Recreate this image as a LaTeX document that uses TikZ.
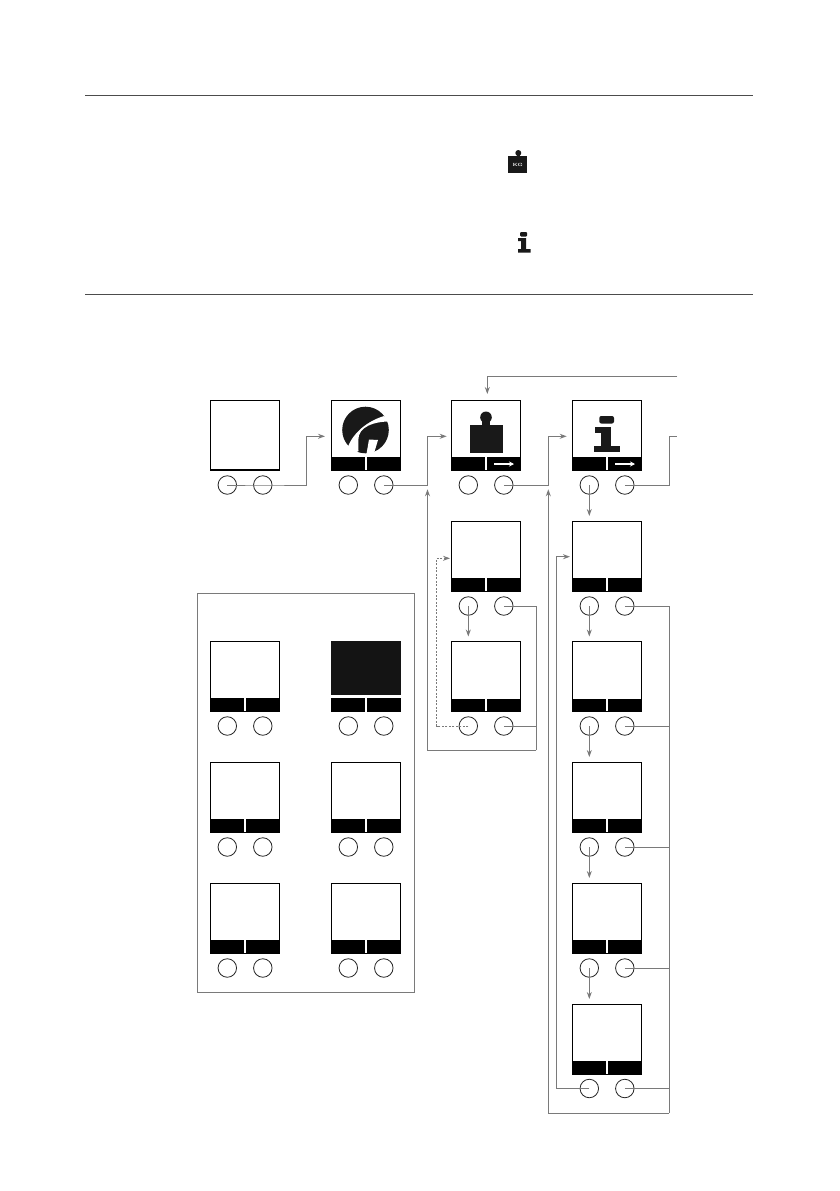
\documentclass[tikz,border=0pt]{standalone}
\usetikzlibrary{arrows.meta}

\begin{document}
\begin{tikzpicture}[
    x=1pt, y=-1pt,
    screen/.style={draw=black, fill=white, line width=1pt, minimum width=69.5pt, minimum height=70pt, inner sep=0pt, outer sep=0pt},
    softkey/.style={fill=black, minimum width=34pt, minimum height=13.5pt, inner sep=0pt, outer sep=0pt},
    keycap/.style={circle, draw=black!85, line width=0.8pt, minimum size=18.5pt, inner sep=0pt},
    flow/.style={draw=black!52, line width=1pt},
    icon/.style={fill=black!90},
    >={Stealth[length=7pt, width=5pt]}
]
    \useasboundingbox (0,0) rectangle (839,1191);

    % Rules of the table
    \coordinate (ruleTL) at (85,95);
    \coordinate (ruleTR) at (753,95);
    \coordinate (ruleBL) at (85,294.5);
    \coordinate (ruleBR) at (753,294.5);
    \draw[black!70, line width=0.8pt] (ruleTL) -- (ruleTR);
    \draw[black!70, line width=0.8pt] (ruleBL) -- (ruleBR);

    % Small weight icon
    \fill[icon] (518.3,153) circle (3);
    \fill[icon] (516.5,153) rectangle (520,157);
    \fill[icon] (508.3,156) rectangle (527.3,172.7);
    \node[white, font=\fontsize{4.5}{5}\selectfont\bfseries, inner sep=0pt] (kg) at (517.8,164.5) {KG};

    % Small info icon
    \fill[icon, rounded corners=1pt] (520,232) rectangle (527,236.5);
    \fill[icon] (518,238) rectangle (526,241) (521,238) rectangle (526,250) (518,249) rectangle (530.7,252.7);

    % Panel round the six small screens
    \node[draw=black!52, line width=1pt, minimum width=216.5pt, minimum height=399pt, inner sep=0pt] (panel) at (305.75,792.5) {};

    % Screens with a frame
    \foreach \name/\x/\y in {t1/210/400, t2/331/400, t3/451/400, t4/572/400,
                             w1/451/521, w2/451/641.5,
                             i1/572/521, i2/572/641.5, i3/572/762, i4/572/883, i5/572/1004,
                             p1/210/641, p3/210/762, p4/331/762, p5/210/883, p6/331/883} {
        \node[screen] (\name) at (\x+35,\y+35) {};
    }

    % Heavier lower edge of the first screen
    \draw[black, line width=1.8pt] (t1.south west) -- (t1.south east);

    % Dark screen of the panel
    \node[fill=black!92, minimum width=70pt, minimum height=54pt, inner sep=0pt] (p2) at (366,668) {};

    % Soft keys under the screens
    \foreach \name/\x/\y in {t2/331/400, t3/451/400, t4/572/400,
                             w1/451/521, w2/451/641.5,
                             i1/572/521, i2/572/641.5, i3/572/762, i4/572/883, i5/572/1004,
                             p1/210/641, p2/331/641, p3/210/762, p4/331/762, p5/210/883, p6/331/883} {
        \node[softkey] (\name L) at (\x+16.8,\y+64) {};
        \node[softkey] (\name R) at (\x+53,\y+64) {};
    }

    % Round keys below the screens
    \foreach \name/\x/\y in {t1/210/400, t2/331/400, t3/451/400, t4/572/400,
                             w1/451/521, w2/451/641,
                             i1/572/521, i2/572/641, i3/572/762, i4/572/883, i5/572/1003.5,
                             p1/210/641, p2/331/641, p3/210/762, p4/331/762, p5/210/883, p6/331/883} {
        \node[keycap] (\name a) at (\x+17.3,\y+85) {};
        \node[keycap] (\name b) at (\x+52.8,\y+85) {};
    }

    % Logo on the second screen
    \fill[icon] (365.5,430) circle (23.3);
    \fill[white] (347,449) .. controls (353,432) and (368,421) .. (384,416)
        -- (392,421.5) .. controls (374,421) and (358,427) .. (358.3,440)
        -- (358.5,451) -- (350,456) -- cycle;
    \fill[white] (369,439.5) -- (378,440) -- (373.5,455) -- (366.5,454) -- cycle;

    % Large weight icon
    \fill[icon] (486,417.3) circle (5.8);
    \fill[icon] (482,420) rectangle (490,427);
    \fill[icon] (470,425) rectangle (502.7,453.3);

    % Large info icon
    \fill[icon, rounded corners=2pt] (599.3,416) rectangle (614,423.5);
    \fill[icon] (595,426.7) rectangle (610.7,432.7);
    \fill[icon] (600.7,426.7) rectangle (610.7,447);
    \fill[icon] (594.3,446) rectangle (620,451.7);

    % White arrows in the soft keys
    \draw[white, line width=1.2pt, -{Stealth[length=5pt, width=5pt]}] ([xshift=-10pt]t3R.center) -- ([xshift=10pt]t3R.center);
    \draw[white, line width=1.2pt, -{Stealth[length=5pt, width=5pt]}] ([xshift=-10pt]t4R.center) -- ([xshift=10pt]t4R.center);

    % Free ends of the connectors
    \coordinate (inT2) at (325,436.3);
    \coordinate (inT3) at (446.7,436.3);
    \coordinate (inT4) at (566.7,436.3);
    \coordinate (outR) at (677.3,436.3);
    \coordinate (backR) at (677.3,376);
    \coordinate (inTop) at (487.3,394);
    \coordinate (inW1) at (450,558.3);
    \coordinate (inI1) at (570,556.7);
    \coordinate (upL) at (427.5,489.3);
    \coordinate (upR) at (548.3,489.3);
    \coordinate (railW) at (536.3,750);
    \coordinate (railI) at (669,1113);

    % Top row, left to right
    \draw[flow, ->] (t1a.center) -- (t1b.center) -- (306,485) |- (inT2);
    \draw[flow, ->] (t2b.center) -| (upL |- inT3) -- (inT3);
    \draw[flow, ->] (t3b.center) -| (upR |- inT4) -- (inT4);
    \draw[flow] (t4b.center) -| (669.3,436.3) -- (outR);
    \draw[flow, ->] (backR) -| (inTop);

    % Weight column
    \draw[flow, ->] (w1a.center) -- ([yshift=5pt]w2.north -| w1a);
    \draw[flow] (w1b.center) -| (railW);
    \draw[flow] (w2b.center) -- (w2b.center -| railW);
    \draw[flow, ->] (railW) -| (upL);
    \draw[black!52, dash pattern=on 2pt off 1.5pt, line width=1pt, ->] (w2a.center) -| (436.7,558.3) -- (inW1);

    % Info column
    \draw[flow, ->] (t4a.center) -- ([yshift=5pt]i1.north -| t4a);
    \draw[flow, ->] (i1a.center) -- ([yshift=5pt]i2.north -| i1a);
    \draw[flow, ->] (i2a.center) -- ([yshift=5pt]i3.north -| i2a);
    \draw[flow, ->] (i3a.center) -- ([yshift=5pt]i4.north -| i3a);
    \draw[flow, ->] (i4a.center) -- ([yshift=5pt]i5.north -| i4a);
    \draw[flow] (i1b.center) -| (railI);
    \draw[flow] (i2b.center) -- (i2b.center -| railI);
    \draw[flow] (i3b.center) -- (i3b.center -| railI);
    \draw[flow] (i4b.center) -- (i4b.center -| railI);
    \draw[flow] (i5b.center) -- (i5b.center -| railI);
    \draw[flow, ->] (railI) -| (upR);
    \draw[flow, ->] (i5a.center) -| (556.7,556.7) -- (inI1);

\end{tikzpicture}
\end{document}
